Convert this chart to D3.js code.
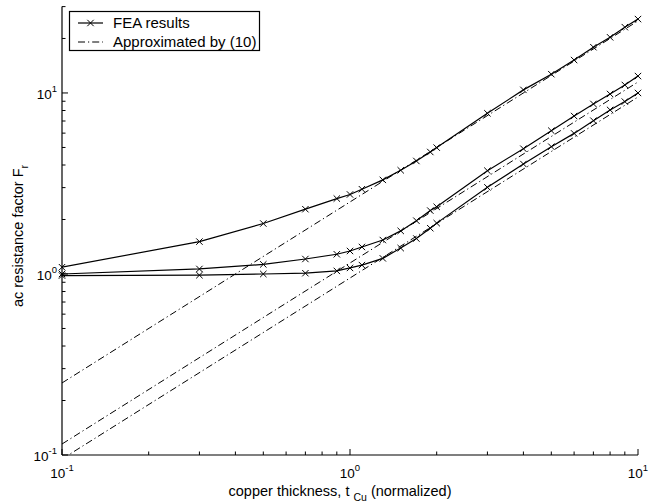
<!DOCTYPE html>
<html>
<head>
<meta charset="utf-8">
<script src="https://cdn.jsdelivr.net/npm/d3@7"></script>
<style>
  body { margin: 0; background: #fff; }
  text { font-family: "Liberation Sans", Arial, sans-serif; fill: #000; }
</style>
</head>
<body>
<div id="graf"></div>
<script>
// thickness values (normalized) where FEA was evaluated
const thickness = [0.1, 0.3, 0.5, 0.7, 0.9, 1.0, 1.1, 1.3, 1.5, 1.7, 1.9, 2.0, 3, 4, 5, 6, 7, 8, 9, 10]
const feaTop = [1.09, 1.51, 1.9, 2.28, 2.61, 2.75, 2.94, 3.31, 3.74, 4.21, 4.72, 4.99, 7.72, 10.4, 12.7, 15.2, 17.9, 20.3, 23.1, 25.6]
const feaMid = [1.0, 1.066, 1.13, 1.21, 1.285, 1.34, 1.41, 1.54, 1.73, 1.97, 2.24, 2.35, 3.72, 4.92, 6.19, 7.46, 8.7, 9.87, 11.07, 12.4]
const feaLow = [0.98, 0.985, 1.0, 1.01, 1.04, 1.08, 1.12, 1.22, 1.39, 1.57, 1.79, 1.91, 3.01, 4.05, 5.05, 5.98, 7.03, 8.06, 8.96, 10.0]
// approximation (10): straight lines on log-log, end points
const approxX = [0.1, 10]
const approxTop = [0.25, 25]
const approxMid = [0.115, 11.5]
const approxLow = [0.095, 9.5]

const xTicks = [0.1, 1, 10]
const yTicks = [0.1, 1, 10]
const xTickExp = ["-1", "0", "1"]
const yTickExp = ["-1", "0", "1"]

const anchoTotal = 655
const altoTotal = 504
const margins = { left: 62, top: 6.6, right: 18, bottom: 49 }
const ancho = anchoTotal - margins.left - margins.right
const alto = altoTotal - margins.top - margins.bottom

const svg = d3.select("#graf")
  .append("svg")
  .attr("width", anchoTotal)
  .attr("height", altoTotal)

const g = svg.append("g")
  .attr("transform", `translate(${margins.left}, ${margins.top})`)

const x = d3.scaleLog().domain([0.1, 10]).range([0, 576])
const y = d3.scaleLog().domain([0.1, 30]).range([alto, 0])

svg.append("defs").append("clipPath").attr("id", "clip")
  .append("rect").attr("width", 576).attr("height", alto)

// minor + major tick values
const minorX = []
for (let d = 0.1; d < 10; d *= 10) for (let k = 1; k < 10; k++) minorX.push(+(d * k).toPrecision(3))
minorX.push(10)
const minorY = []
for (let d = 0.1; d < 30; d *= 10) for (let k = 1; k < 10; k++) if (d * k <= 30.0001) minorY.push(+(d * k).toPrecision(3))

// axes lines
g.append("line").attr("x1", 0).attr("x2", 576).attr("y1", alto).attr("y2", alto)
  .attr("stroke", "#000").attr("stroke-width", 1.2)
g.append("line").attr("x1", 0).attr("x2", 0).attr("y1", 0).attr("y2", alto)
  .attr("stroke", "#000").attr("stroke-width", 1.2)

g.selectAll(".xt").data(minorX).enter().append("line")
  .attr("x1", (d) => x(d)).attr("x2", (d) => x(d))
  .attr("y1", alto).attr("y2", (d) => alto - (xTicks.includes(d) ? 6 : 3.5))
  .attr("stroke", "#000")
g.selectAll(".yt").data(minorY).enter().append("line")
  .attr("y1", (d) => y(d)).attr("y2", (d) => y(d))
  .attr("x1", 0).attr("x2", (d) => (yTicks.includes(d) ? 6 : 3.5))
  .attr("stroke", "#000")

// tick labels
const xl = g.selectAll(".xl").data(xTicks).enter().append("text")
  .attr("x", (d) => x(d)).attr("y", alto + 23)
  .attr("text-anchor", "middle").style("font-size", "13.5px")
xl.append("tspan").text("10")
xl.append("tspan").attr("dy", -7).style("font-size", "9.5px").text((d, i) => xTickExp[i])

const yl = g.selectAll(".yl").data(yTicks).enter().append("text")
  .attr("x", -5).attr("y", (d) => y(d) + 6)
  .attr("text-anchor", "end").style("font-size", "13.5px")
yl.append("tspan").text("10")
yl.append("tspan").attr("dy", -7).style("font-size", "9.5px").text((d, i) => yTickExp[i])

// axis titles
const xt = svg.append("text").attr("x", 340).attr("y", 496)
  .attr("text-anchor", "middle").style("font-size", "14.5px")
xt.append("tspan").text("copper thickness, t ")
xt.append("tspan").attr("dy", 5).style("font-size", "10.5px").text("Cu")
xt.append("tspan").attr("dy", -5).text(" (normalized)")

const yt = svg.append("text")
  .attr("transform", "translate(23, 236) rotate(-90)")
  .attr("text-anchor", "middle").style("font-size", "14.5px")
yt.append("tspan").text("ac resistance factor F")
yt.append("tspan").attr("dy", 5).style("font-size", "10.5px").text("r")

// data
const plot = g.append("g").attr("clip-path", "url(#clip)")
const line = d3.line().x((d) => x(d[0])).y((d) => y(d[1]))

const approx = [approxTop, approxMid, approxLow]
approx.forEach((s) => {
  plot.append("path")
    .attr("d", line(approxX.map((v, i) => [v, s[i]])))
    .attr("fill", "none").attr("stroke", "#000").attr("stroke-width", 1)
    .attr("stroke-dasharray", "7,3,1.2,3")
})

const fea = [feaTop, feaMid, feaLow]
fea.forEach((s) => {
  const pts = thickness.map((v, i) => [v, s[i]])
  plot.append("path").attr("d", line(pts))
    .attr("fill", "none").attr("stroke", "#000").attr("stroke-width", 1.2)
  g.selectAll(null).data(pts).enter().append("path")
    .attr("transform", (d) => `translate(${x(d[0])}, ${y(d[1])})`)
    .attr("d", "M-3.2,-3.2L3.2,3.2M-3.2,3.2L3.2,-3.2")
    .attr("stroke", "#000").attr("stroke-width", 1)
})

// legend
const leg = svg.append("g")
leg.append("rect").attr("x", 69.5).attr("y", 11.5).attr("width", 190).attr("height", 39)
  .attr("fill", "#fff").attr("stroke", "#000").attr("stroke-width", 1.2)
leg.append("line").attr("x1", 78).attr("x2", 103).attr("y1", 23).attr("y2", 23)
  .attr("stroke", "#000").attr("stroke-width", 1.2)
leg.append("path").attr("transform", "translate(90.5, 23)")
  .attr("d", "M-3.2,-3.2L3.2,3.2M-3.2,3.2L3.2,-3.2").attr("stroke", "#000")
leg.append("line").attr("x1", 78).attr("x2", 103).attr("y1", 42).attr("y2", 42)
  .attr("stroke", "#000").attr("stroke-dasharray", "7,3,1.2,3")
leg.append("text").attr("x", 113).attr("y", 28).style("font-size", "15px").text("FEA results")
leg.append("text").attr("x", 113).attr("y", 47).style("font-size", "15px").text("Approximated by (10)")
</script>
</body>
</html>
